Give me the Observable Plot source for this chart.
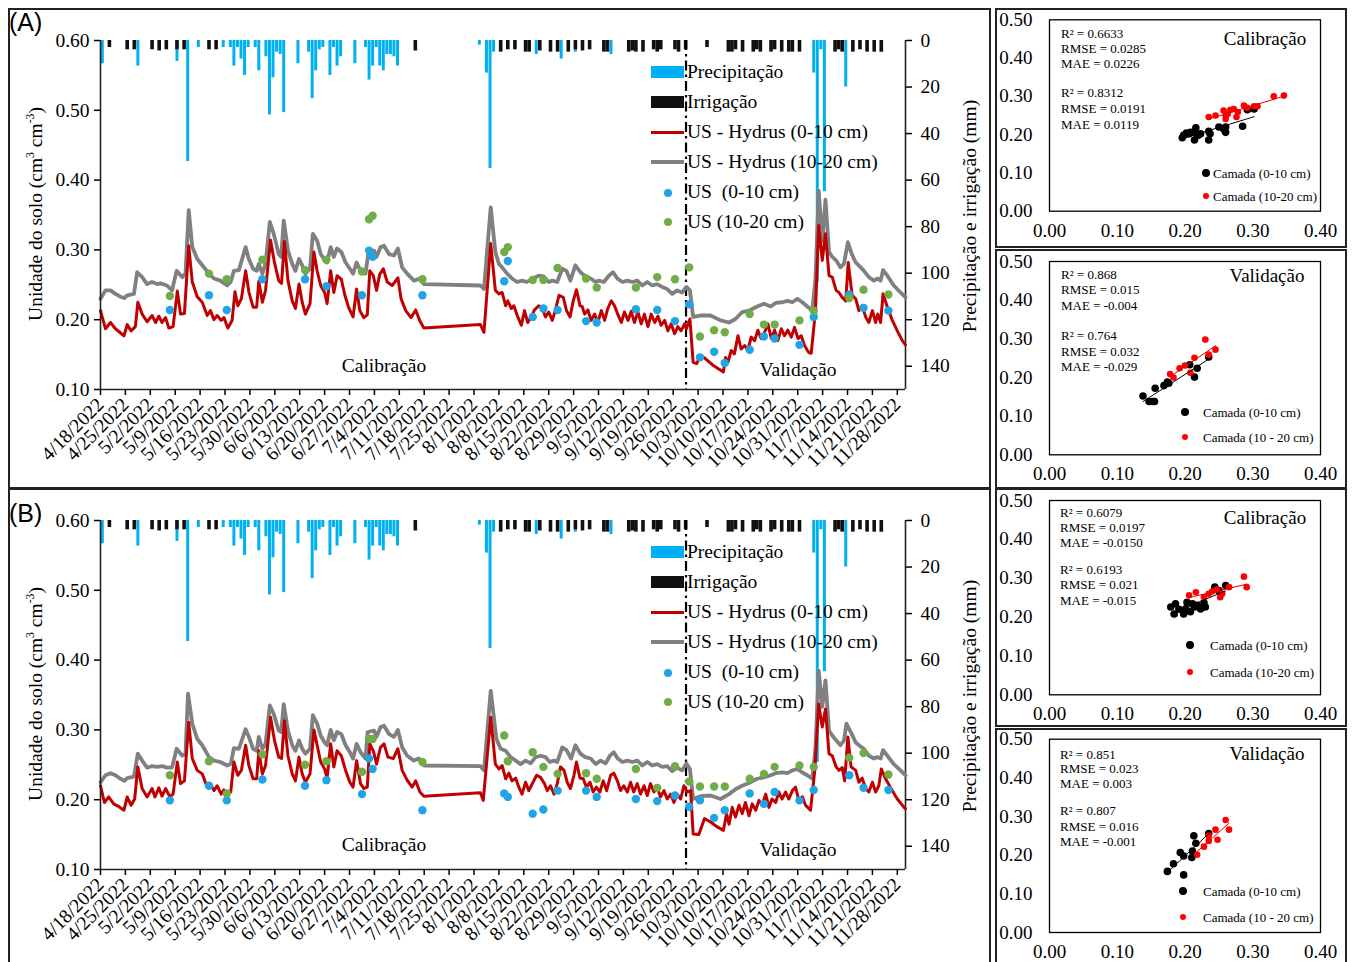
<!DOCTYPE html>
<html lang="pt">
<head>
<meta charset="utf-8">
<title>Umidade do solo – Hydrus</title>
<script src="https://cdn.jsdelivr.net/npm/d3@7"></script>
<script src="https://cdn.jsdelivr.net/npm/@observablehq/plot@0.6"></script>
<style>
  html, body { margin: 0; padding: 0; background: #fff; }
  #fig { position: relative; width: 1354px; height: 962px; overflow: hidden; background: #fff; color: #000;
         font-family: 'Liberation Serif', 'Times New Roman', serif; }
  .layer { position: absolute; }
  .layer svg { display: block; overflow: visible; }
  .layer svg, .layer svg text, .layer svg g { font-family: 'Liberation Serif', 'Times New Roman', serif !important; }
</style>
</head>
<body>
<div id="fig"></div>
<script>
// ---------------- data ----------------
// day offsets are counted from the first simulated day
const startDay = "2022-04-18";
const lastDay = 226.3;
const splitDay = 164.6;          // end of calibration / start of validation

// daily precipitation and irrigation (mm): [day, mm]
const precip = [[0,10],[10,11],[21,9],[24,52],[27,3],[34,3],[36,3],[37,11],[38,3],[39,8],[40,15],[41,3],[43,3],[44,13],[46,7],[47,32],[48,16],[49,5],[50,6],[51,31],[55,10],[58,5],[59,25],[60,13],[61,4],[62,3],[64,15],[65,3],[66,11],[67,7],[71,10],[74,3],[75,17],[76,11],[77,3],[78,11],[79,13],[80,6],[81,6],[82,7],[83,11],[106,2],[108,14],[109,55],[110,5],[122,6],[129,8],[133,5],[143,6],[200,14],[201,104],[202,4],[203,65],[209,20],[219,5]];
const irrig = [[2,3],[7,4],[9,4],[14,4],[16,4.5],[18,4],[21,4],[23,4],[30,4],[32,4],[88,4.5],[112,5],[114,4],[116,4],[119,5],[120,5],[123,4.5],[126,5],[128,5],[131,5],[133,4],[135,4.5],[137,4],[141,5],[142,5],[148,5],[149,4.5],[150,5],[152,5],[155,4],[156,5],[157,4],[161,4],[162,5],[164,4],[170,3],[176,5],[177,5],[178,4],[180,5],[183,5],[184,4],[185,5],[188,5],[189,4],[191,5],[193,5],[194,5],[196,5],[206,5],[207,4],[208,5],[211,5],[213,4],[215,5],[217,5],[219,5]];

// measured soil moisture (cm3 cm-3) on the sampling days
const obsDay = [19,30,35,45,57,63,73,75,76,90,113,114,121,124,128,136,139,150,156,161,165,168,172,175,182,186,189,196,200,210,214,221];
const obs0A = [0.214,0.235,0.214,0.258,0.258,0.248,0.235,0.299,0.290,0.235,0.255,0.284,0.204,0.216,0.214,0.198,0.196,0.215,0.214,0.198,0.222,0.146,0.154,0.138,0.157,0.176,0.173,0.164,0.204,0.236,0.217,0.213];
const obs1A = [0.234,0.266,0.258,0.286,0.271,0.286,0.269,0.344,0.349,0.258,0.297,0.304,0.257,0.257,0.274,0.259,0.246,0.246,0.261,0.258,0.275,0.176,0.185,0.182,0.208,0.193,0.193,0.199,0.213,0.231,0.243,0.236];
const obs0B = [0.199,0.220,0.199,0.229,0.220,0.228,0.208,0.259,0.244,0.185,0.209,0.204,0.180,0.186,0.213,0.213,0.204,0.201,0.198,0.206,0.190,0.199,0.174,0.185,0.209,0.194,0.211,0.199,0.214,0.235,0.217,0.214];
const obs1B = [0.235,0.255,0.209,0.265,0.250,0.255,0.240,0.287,0.287,0.254,0.292,0.255,0.268,0.247,0.237,0.238,0.230,0.244,0.217,0.248,0.226,0.219,0.219,0.219,0.230,0.237,0.247,0.249,0.247,0.260,0.267,0.236];

// Hydrus simulated soil moisture: [day, value]
const redA = [[0,0.213],[1.4,0.187],[2.8,0.196],[4.2,0.187],[6.6,0.177],[7.5,0.193],[8.6,0.184],[9.8,0.190],[10.5,0.225],[11.7,0.208],[13.1,0.197],[14.5,0.206],[15.5,0.196],[16.4,0.205],[17.3,0.196],[18.3,0.203],[19.2,0.188],[20.4,0.190],[21.6,0.241],[22.5,0.208],[23.6,0.209],[24.8,0.306],[25.8,0.254],[27.2,0.233],[28.6,0.225],[30.0,0.206],[30.9,0.213],[31.9,0.200],[32.8,0.206],[33.9,0.199],[34.7,0.203],[35.8,0.188],[37.0,0.199],[37.8,0.240],[38.6,0.220],[39.6,0.230],[40.8,0.270],[41.7,0.240],[42.9,0.218],[43.9,0.218],[44.5,0.255],[45.5,0.225],[46.4,0.242],[47.8,0.314],[48.9,0.282],[50.1,0.256],[50.9,0.252],[51.7,0.312],[52.7,0.256],[53.9,0.227],[54.8,0.216],[55.8,0.251],[56.7,0.225],[57.6,0.208],[58.9,0.223],[60.0,0.297],[60.9,0.270],[61.9,0.249],[63.0,0.239],[63.7,0.223],[64.7,0.270],[65.6,0.239],[66.5,0.263],[67.7,0.258],[68.7,0.235],[69.8,0.217],[71.0,0.204],[72.0,0.244],[72.9,0.213],[74.0,0.203],[75.0,0.207],[75.7,0.270],[76.7,0.263],[77.6,0.242],[78.5,0.265],[79.5,0.273],[80.6,0.254],[82.0,0.249],[83.6,0.260],[84.5,0.230],[85.8,0.213],[87.3,0.203],[88.6,0.214],[89.8,0.198],[90.9,0.188],[106.8,0.193],[107.8,0.182],[109.7,0.309],[111.0,0.242],[112.0,0.237],[112.9,0.239],[113.9,0.220],[114.5,0.227],[115.5,0.216],[116.2,0.220],[117.3,0.204],[118.3,0.192],[119.2,0.213],[120.1,0.196],[121.1,0.204],[122.0,0.214],[123.2,0.220],[124.2,0.216],[125.1,0.204],[126.0,0.211],[127.0,0.199],[127.9,0.214],[128.9,0.235],[130.1,0.232],[131.0,0.213],[132.0,0.204],[132.9,0.227],[133.8,0.243],[134.8,0.220],[135.4,0.219],[136.1,0.208],[137.0,0.214],[137.9,0.199],[138.9,0.208],[139.8,0.196],[140.8,0.213],[141.7,0.199],[142.6,0.216],[143.6,0.227],[144.5,0.220],[145.4,0.208],[146.4,0.196],[147.3,0.211],[148.3,0.199],[149.2,0.212],[150.1,0.196],[151.1,0.211],[152.0,0.194],[152.9,0.208],[153.9,0.190],[154.8,0.208],[155.8,0.196],[156.7,0.205],[157.6,0.192],[158.6,0.199],[159.5,0.184],[160.4,0.194],[161.4,0.180],[162.3,0.190],[163.2,0.184],[164.2,0.194],[164.7,0.187],[165.7,0.201],[166.6,0.139],[167.6,0.137],[168.7,0.149],[170.1,0.144],[172.4,0.134],[175.1,0.125],[175.7,0.146],[176.4,0.139],[177.3,0.156],[178.2,0.151],[179.2,0.177],[180.1,0.158],[181.1,0.163],[182.0,0.156],[182.9,0.175],[183.9,0.170],[184.8,0.185],[185.7,0.173],[186.7,0.182],[187.6,0.194],[188.6,0.173],[189.5,0.185],[190.4,0.170],[191.4,0.187],[192.3,0.177],[193.2,0.185],[194.2,0.175],[195.1,0.189],[196.1,0.173],[197.0,0.177],[197.9,0.163],[199.1,0.153],[199.8,0.152],[201.0,0.213],[201.9,0.335],[202.9,0.285],[203.8,0.323],[204.8,0.263],[205.7,0.261],[206.8,0.242],[207.6,0.239],[208.5,0.232],[209.5,0.227],[210.2,0.282],[211.3,0.235],[212.3,0.230],[213.2,0.213],[214.1,0.220],[215.1,0.204],[216.0,0.196],[217.0,0.213],[217.9,0.196],[218.5,0.208],[219.3,0.196],[220.0,0.237],[221.2,0.218],[222.6,0.199],[224.0,0.184],[225.4,0.170],[226.3,0.164]];
const grayA = [[0,0.230],[1.4,0.242],[2.8,0.242],[4.2,0.237],[5.6,0.233],[6.7,0.231],[7.5,0.235],[9.4,0.237],[10.3,0.268],[11.7,0.261],[13.1,0.251],[14.5,0.254],[15.9,0.251],[16.9,0.252],[18.7,0.249],[20.1,0.242],[21.4,0.270],[23.0,0.261],[23.9,0.266],[24.8,0.357],[25.8,0.304],[27.2,0.287],[28.6,0.278],[30.5,0.266],[31.9,0.259],[33.7,0.256],[35.6,0.249],[36.6,0.254],[37.5,0.270],[38.9,0.271],[40.8,0.304],[41.7,0.287],[42.9,0.273],[43.9,0.270],[44.5,0.280],[45.5,0.266],[46.4,0.280],[47.6,0.340],[48.7,0.323],[50.1,0.294],[50.8,0.290],[51.5,0.342],[52.7,0.299],[53.9,0.280],[54.8,0.270],[55.8,0.287],[56.7,0.278],[57.6,0.266],[58.9,0.273],[59.7,0.323],[60.9,0.313],[61.9,0.294],[63.0,0.285],[63.7,0.282],[64.7,0.304],[65.6,0.290],[66.5,0.302],[67.7,0.297],[68.9,0.282],[70.1,0.273],[71.0,0.266],[72.0,0.282],[73.1,0.270],[74.5,0.266],[75.4,0.299],[76.9,0.299],[77.6,0.290],[78.7,0.304],[79.7,0.306],[81.1,0.294],[82.5,0.292],[83.6,0.302],[84.8,0.275],[86.2,0.266],[88.1,0.256],[89.8,0.259],[90.9,0.251],[106.8,0.249],[107.8,0.244],[109.7,0.361],[111.0,0.297],[112.0,0.280],[112.9,0.275],[114.3,0.266],[115.7,0.259],[117.1,0.254],[118.5,0.256],[119.9,0.254],[121.4,0.259],[123.2,0.263],[124.6,0.262],[126.0,0.254],[127.0,0.256],[128.4,0.254],[129.8,0.273],[131.0,0.270],[132.1,0.256],[133.5,0.278],[134.9,0.268],[136.6,0.261],[137.8,0.259],[139.2,0.254],[140.1,0.256],[141.5,0.254],[142.9,0.263],[144.1,0.268],[145.3,0.259],[146.7,0.254],[148.1,0.256],[149.5,0.254],[150.9,0.256],[152.3,0.249],[153.7,0.254],[155.1,0.249],[156.5,0.251],[157.9,0.247],[159.3,0.244],[160.7,0.237],[162.1,0.242],[163.5,0.239],[164.7,0.247],[165.7,0.242],[166.6,0.204],[168.7,0.206],[171.5,0.206],[174.3,0.199],[176.7,0.196],[178.5,0.201],[180.4,0.211],[182.3,0.213],[184.6,0.219],[186.5,0.223],[188.4,0.219],[189.8,0.224],[191.7,0.225],[193.1,0.227],[194.5,0.225],[195.9,0.230],[197.3,0.225],[198.7,0.219],[200.1,0.213],[201.0,0.259],[201.9,0.385],[202.9,0.313],[203.8,0.372],[204.8,0.297],[205.7,0.290],[206.8,0.285],[208.0,0.275],[209.0,0.280],[210.1,0.311],[211.2,0.294],[212.3,0.282],[213.7,0.275],[214.6,0.270],[216.0,0.261],[217.4,0.256],[218.4,0.259],[219.3,0.256],[220.0,0.271],[221.2,0.263],[223.0,0.249],[224.9,0.239],[226.3,0.232]];
const redB = [[0,0.220],[1.1,0.196],[2.3,0.204],[3.7,0.194],[5.2,0.190],[6.6,0.185],[7.5,0.204],[8.6,0.192],[9.6,0.201],[10.5,0.247],[11.7,0.216],[13.1,0.204],[14.5,0.216],[15.3,0.204],[16.4,0.217],[17.3,0.205],[18.3,0.216],[19.5,0.204],[20.4,0.208],[21.6,0.254],[22.5,0.223],[23.6,0.227],[24.8,0.311],[25.8,0.259],[27.2,0.242],[28.6,0.237],[30.0,0.218],[30.9,0.223],[31.9,0.213],[32.8,0.220],[33.9,0.208],[34.7,0.214],[35.6,0.207],[36.6,0.211],[37.5,0.254],[38.6,0.235],[39.6,0.242],[40.8,0.278],[41.7,0.249],[42.9,0.230],[43.9,0.230],[44.5,0.270],[45.5,0.237],[46.4,0.249],[47.8,0.318],[48.9,0.285],[50.1,0.261],[50.9,0.259],[51.7,0.313],[52.7,0.263],[53.9,0.237],[54.8,0.227],[55.8,0.261],[56.7,0.237],[57.6,0.225],[58.9,0.237],[60.0,0.300],[60.9,0.278],[61.9,0.254],[63.0,0.244],[63.7,0.231],[64.7,0.280],[65.6,0.247],[66.5,0.270],[67.7,0.263],[68.9,0.242],[70.1,0.225],[71.0,0.218],[72.0,0.256],[73.1,0.223],[74.0,0.216],[75.0,0.218],[75.7,0.280],[76.7,0.270],[77.6,0.251],[78.7,0.275],[79.7,0.280],[80.8,0.261],[82.3,0.259],[83.6,0.273],[84.8,0.242],[86.2,0.228],[87.6,0.218],[88.6,0.227],[89.8,0.211],[90.9,0.205],[106.8,0.210],[107.6,0.199],[109.7,0.318],[111.0,0.251],[112.0,0.244],[112.9,0.249],[113.9,0.230],[114.8,0.238],[115.7,0.227],[116.7,0.231],[117.6,0.218],[118.5,0.208],[119.5,0.225],[120.4,0.213],[121.4,0.223],[122.6,0.235],[123.7,0.232],[124.8,0.223],[125.6,0.213],[126.5,0.220],[127.5,0.208],[128.4,0.223],[129.3,0.247],[130.3,0.242],[131.2,0.225],[132.1,0.216],[133.1,0.235],[133.8,0.254],[134.8,0.231],[135.7,0.230],[136.6,0.218],[137.6,0.225],[138.5,0.211],[139.4,0.218],[140.4,0.211],[141.3,0.227],[142.3,0.213],[143.4,0.235],[144.3,0.238],[145.3,0.227],[146.2,0.213],[147.1,0.220],[148.1,0.211],[149.0,0.225],[149.9,0.211],[150.9,0.223],[151.8,0.208],[152.8,0.220],[153.7,0.206],[154.6,0.223],[155.6,0.211],[156.5,0.218],[157.4,0.204],[158.4,0.213],[159.3,0.201],[160.3,0.208],[161.2,0.196],[162.1,0.208],[163.1,0.201],[164.0,0.220],[164.9,0.211],[165.9,0.213],[166.6,0.151],[168.2,0.150],[169.8,0.173],[171.5,0.168],[173.4,0.161],[175.1,0.156],[176.0,0.180],[176.7,0.165],[177.6,0.189],[178.5,0.175],[179.5,0.192],[180.4,0.180],[181.3,0.196],[182.3,0.177],[183.2,0.194],[184.2,0.185],[185.1,0.199],[186.0,0.192],[187.0,0.208],[187.9,0.189],[188.8,0.201],[189.8,0.196],[190.7,0.211],[191.6,0.201],[192.6,0.211],[193.5,0.201],[194.5,0.213],[195.4,0.218],[196.3,0.199],[197.3,0.204],[198.2,0.192],[199.6,0.185],[200.8,0.242],[201.9,0.337],[202.9,0.304],[203.8,0.330],[204.8,0.266],[205.7,0.263],[206.8,0.247],[207.6,0.242],[208.5,0.246],[209.2,0.227],[210.1,0.290],[211.0,0.247],[212.3,0.242],[213.2,0.225],[214.1,0.231],[215.1,0.216],[216.0,0.211],[217.0,0.225],[217.9,0.211],[218.8,0.220],[219.5,0.244],[220.7,0.230],[222.6,0.213],[224.0,0.201],[225.9,0.189],[226.3,0.187]];
const grayB = [[0,0.225],[1.4,0.235],[2.8,0.238],[4.2,0.235],[5.6,0.230],[6.7,0.227],[7.5,0.231],[9.4,0.233],[10.5,0.266],[11.7,0.256],[13.1,0.246],[14.5,0.248],[15.9,0.247],[17.3,0.248],[18.7,0.246],[20.1,0.246],[21.4,0.273],[23.0,0.263],[23.9,0.266],[24.6,0.352],[25.8,0.309],[27.2,0.287],[28.6,0.278],[30.5,0.261],[31.9,0.256],[33.7,0.254],[35.6,0.249],[36.6,0.251],[37.5,0.274],[38.9,0.273],[40.8,0.301],[41.7,0.290],[42.9,0.273],[43.9,0.270],[44.5,0.290],[45.5,0.273],[46.4,0.280],[47.6,0.335],[48.7,0.323],[50.1,0.299],[50.8,0.297],[51.5,0.337],[52.7,0.299],[53.9,0.278],[54.8,0.270],[55.8,0.285],[56.7,0.273],[57.6,0.266],[58.9,0.273],[59.7,0.321],[60.9,0.309],[61.9,0.292],[63.0,0.282],[63.7,0.278],[64.7,0.300],[65.6,0.285],[66.5,0.297],[67.7,0.294],[68.9,0.278],[70.1,0.268],[71.0,0.259],[72.0,0.280],[73.1,0.268],[74.5,0.259],[75.1,0.297],[76.9,0.299],[77.6,0.290],[78.7,0.304],[79.7,0.306],[81.1,0.294],[82.5,0.290],[83.6,0.300],[84.8,0.275],[86.2,0.263],[88.1,0.256],[89.5,0.259],[90.9,0.249],[106.8,0.248],[107.8,0.242],[109.7,0.356],[111.3,0.287],[112.5,0.273],[113.9,0.270],[115.3,0.261],[116.7,0.256],[118.1,0.251],[119.5,0.256],[120.9,0.252],[122.3,0.261],[123.7,0.263],[125.1,0.261],[126.3,0.254],[127.5,0.256],[128.4,0.254],[129.8,0.275],[131.0,0.271],[132.3,0.259],[133.5,0.278],[134.9,0.266],[136.3,0.261],[137.8,0.259],[139.2,0.251],[140.6,0.256],[142.0,0.252],[143.2,0.263],[144.3,0.268],[145.4,0.259],[146.7,0.254],[148.1,0.256],[149.5,0.254],[150.9,0.256],[152.3,0.249],[153.7,0.254],[155.1,0.249],[156.5,0.251],[157.9,0.247],[159.3,0.248],[160.7,0.241],[162.1,0.246],[163.5,0.242],[164.7,0.252],[165.7,0.244],[166.6,0.201],[168.7,0.205],[171.5,0.206],[174.3,0.201],[176.7,0.208],[178.5,0.215],[180.4,0.220],[182.3,0.224],[184.6,0.230],[186.5,0.232],[188.4,0.235],[189.8,0.238],[191.7,0.239],[193.1,0.238],[194.5,0.242],[195.9,0.244],[197.3,0.239],[198.7,0.235],[200.1,0.230],[201.0,0.275],[201.9,0.385],[202.9,0.333],[203.8,0.371],[204.8,0.299],[205.7,0.292],[206.8,0.285],[208.0,0.278],[209.0,0.285],[209.7,0.309],[211.2,0.294],[212.3,0.282],[213.7,0.276],[214.6,0.273],[216.0,0.263],[217.4,0.259],[218.4,0.261],[219.3,0.259],[220.0,0.271],[221.2,0.263],[223.0,0.251],[224.9,0.242],[226.3,0.235]];

// tick values
const thetaTicks = [0.1, 0.2, 0.3, 0.4, 0.5, 0.6];
const mmTicks = [0, 20, 40, 60, 80, 100, 120, 140];
const sxTicks = [0, 0.1, 0.2, 0.3, 0.4];
const syTicks = [0, 0.1, 0.2, 0.3, 0.4, 0.5];

// observed (x) vs simulated (y) pairs for each layer
const calA0 = [[0.196,0.192],[0.198,0.198],[0.202,0.204],[0.206,0.202],[0.208,0.206],[0.214,0.186],[0.216,0.218],[0.217,0.202],[0.219,0.198],[0.223,0.202],[0.235,0.209],[0.235,0.186],[0.237,0.202],[0.250,0.220],[0.257,0.215],[0.260,0.220],[0.260,0.206],[0.285,0.222],[0.292,0.265],[0.302,0.267]];
const calA1 = [[0.235,0.246],[0.245,0.250],[0.257,0.263],[0.260,0.250],[0.260,0.241],[0.263,0.254],[0.267,0.265],[0.272,0.267],[0.276,0.246],[0.278,0.259],[0.287,0.276],[0.292,0.270],[0.302,0.274],[0.307,0.274],[0.331,0.300],[0.346,0.302]];
const valA0 = [[0.138,0.152],[0.147,0.138],[0.152,0.138],[0.155,0.138],[0.156,0.172],[0.169,0.179],[0.174,0.188],[0.176,0.185],[0.207,0.233],[0.214,0.201],[0.218,0.224],[0.235,0.253]];
const valA1 = [[0.178,0.209],[0.183,0.200],[0.192,0.224],[0.200,0.231],[0.208,0.212],[0.214,0.251],[0.230,0.298],[0.235,0.259],[0.245,0.272]];
const calB0 = [[0.179,0.226],[0.184,0.208],[0.186,0.234],[0.191,0.220],[0.198,0.208],[0.201,0.221],[0.203,0.238],[0.208,0.214],[0.211,0.234],[0.214,0.226],[0.218,0.230],[0.223,0.221],[0.228,0.237],[0.230,0.226],[0.244,0.277],[0.250,0.268],[0.260,0.281]];
const calB1 = [[0.206,0.256],[0.216,0.264],[0.228,0.251],[0.235,0.260],[0.240,0.266],[0.247,0.271],[0.252,0.251],[0.255,0.260],[0.265,0.277],[0.287,0.304],[0.291,0.277]];
const valB0 = [[0.174,0.158],[0.183,0.178],[0.193,0.207],[0.198,0.198],[0.198,0.149],[0.210,0.194],[0.211,0.211],[0.213,0.250],[0.216,0.231],[0.235,0.256]];
const valB1 = [[0.218,0.201],[0.228,0.222],[0.235,0.237],[0.235,0.250],[0.245,0.266],[0.248,0.240],[0.260,0.291],[0.265,0.266]];

// fit statistics (0-10 cm, then 10-20 cm)
const statsCalA = ["R² = 0.6633", "RMSE = 0.0285", "MAE = 0.0226", "R² = 0.8312", "RMSE = 0.0191", "MAE = 0.0119"];
const statsValA = ["R² = 0.868", "RMSE = 0.015", "MAE = -0.004", "R² = 0.764", "RMSE = 0.032", "MAE = -0.029"];
const statsCalB = ["R² = 0.6079", "RMSE = 0.0197", "MAE = -0.0150", "R² = 0.6193", "RMSE = 0.021", "MAE = -0.015"];
const statsValB = ["R² = 0.851", "RMSE = 0.023", "MAE = 0.003", "R² = 0.807", "RMSE = 0.016", "MAE = -0.001"];

// ---------------- drawing ----------------
const SERIF = "'Liberation Serif','Times New Roman',serif";
const SANS = "'Liberation Sans',Arial,sans-serif";
const C = {rain: "#00B0F0", irr: "#111111", red: "#C00000", gray: "#808080", blue: "#1FA5E6", green: "#70AD47"};
const t0 = Date.parse(startDay + "T00:00:00Z");
const at = d => new Date(t0 + d * 864e5);
const weekTicks = d3.utcMonday.range(at(0), at(lastDay));
const fmtDate = d3.utcFormat("%-m/%-d/%Y");
const fig = document.getElementById("fig");

function el(css, html) {
  const e = document.createElement("div");
  e.style.cssText = "position:absolute;" + css;
  if (html != null) e.innerHTML = html;
  fig.appendChild(e);
  return e;
}
function text(str, x, y, o = {}) {
  const size = o.size || 19.5, fam = o.family || SERIF;
  const tx = o.align === "center" ? "-50%" : o.align === "right" ? "-100%" : "0";
  const rot = o.rotate ? ` rotate(${o.rotate}deg)` : "";
  return el(`left:${x}px;top:${y}px;white-space:nowrap;line-height:1;font-family:${fam};font-size:${size}px;transform:translate(${tx},-50%)${rot};`, str);
}
function box(x, y, w, h) {
  el(`left:${x}px;top:${y}px;width:${w}px;height:${h}px;box-sizing:border-box;border:2px solid #222;`);
}
function layer(svg, x, y) {
  const d = el(`left:${x}px;top:${y}px;`);
  d.className = "layer";
  d.appendChild(svg);
}

const styleOf = size => ({background: "transparent", fontFamily: SERIF, fontSize: size + "px", color: "#000", overflow: "visible"});

function mainPanel(top, h, mb, red, gray, obs0, obs1) {
  const frame = {width: 982, height: h, marginLeft: 92, marginRight: 85, marginTop: 32, marginBottom: mb, style: styleOf(19.5)};
  const xs = {type: "utc", domain: [at(0), at(lastDay)]};
  const water = Plot.plot({
    ...frame,
    x: {...xs, axis: null},
    y: {domain: [0, 150], reverse: true},
    marks: [
      Plot.ruleX(precip, {x: d => at(d[0] + 0.5), y1: 0, y2: d => d[1], stroke: C.rain, strokeWidth: 3}),
      Plot.ruleX(irrig, {x: d => at(d[0] + 0.5), y1: 0, y2: d => d[1], stroke: C.irr, strokeWidth: 3.6}),
      Plot.ruleX([at(lastDay)], {stroke: "#222", strokeWidth: 1.6}),
      Plot.axisY({anchor: "right", ticks: mmTicks, tickSize: 6, tickPadding: 9, strokeWidth: 1.5, label: null})
    ]
  });
  const moist = Plot.plot({
    ...frame,
    x: xs,
    y: {domain: [0.1, 0.6]},
    marks: [
      Plot.ruleX([at(splitDay)], {stroke: "#000", strokeWidth: 2.2, strokeDasharray: "10,4,2.5,4"}),
      Plot.line(gray, {x: d => at(d[0]), y: d => d[1], stroke: C.gray, strokeWidth: 3.8}),
      Plot.line(red, {x: d => at(d[0]), y: d => d[1], stroke: C.red, strokeWidth: 3}),
      Plot.dot(obsDay, {x: d => at(d + 0.5), y: (d, i) => obs0[i], fill: C.blue, r: 4.2}),
      Plot.dot(obsDay, {x: d => at(d + 0.5), y: (d, i) => obs1[i], fill: C.green, r: 4.2}),
      Plot.ruleX([at(0)], {stroke: "#222", strokeWidth: 1.6}),
      Plot.ruleY([0.1], {stroke: "#222", strokeWidth: 1.6}),
      Plot.axisY({ticks: thetaTicks, tickFormat: ".2f", tickSize: 6, tickPadding: 5, strokeWidth: 1.5, label: null}),
      Plot.axisX({ticks: weekTicks, tickFormat: fmtDate, tickRotate: -45, tickSize: 6, tickPadding: 6, strokeWidth: 1.5, label: null})
    ]
  });
  layer(water, 8, top);
  layer(moist, 8, top);
}

function legend(dy) {
  const x0 = 651, w = 33, tx = 687;
  el(`left:${x0}px;top:${66 + dy}px;width:${w}px;height:12px;background:${C.rain};`);
  el(`left:${x0}px;top:${96 + dy}px;width:${w}px;height:12px;background:${C.irr};`);
  el(`left:${x0}px;top:${131 + dy}px;width:${w}px;height:3px;background:${C.red};`);
  el(`left:${x0}px;top:${160 + dy}px;width:${w}px;height:4px;background:${C.gray};`);
  el(`left:${664}px;top:${189 + dy}px;width:8px;height:8px;border-radius:50%;background:${C.blue};`);
  el(`left:${664}px;top:${218 + dy}px;width:8px;height:8px;border-radius:50%;background:${C.green};`);
  const rows = ["Precipitação", "Irrigação", "US - Hydrus (0-10 cm)", "US - Hydrus (10-20 cm)", "US&nbsp; (0-10 cm)", "US (10-20 cm)"];
  rows.forEach((r, i) => text(r, tx, 72 + 30 * i + dy));
}

function scatter(L, black, red, stats, title, redLabel) {
  const plot = Plot.plot({
    width: 352, height: L.h, marginLeft: 54, marginRight: 27, marginTop: L.mt, marginBottom: L.mb,
    style: styleOf(19),
    x: {domain: [0, 0.4]},
    y: {domain: [0, 0.5]},
    marks: [
      Plot.frame({stroke: "#000", strokeWidth: 1.3}),
      Plot.axisX({ticks: sxTicks, tickFormat: ".2f", tickSize: 0, tickPadding: 12, label: null}),
      Plot.axisY({ticks: syTicks, tickFormat: ".2f", tickSize: 0, tickPadding: 17, label: null}),
      Plot.dot(black, {x: d => d[0], y: d => d[1], fill: "#000", r: 3.8}),
      Plot.dot(red, {x: d => d[0], y: d => d[1], fill: "#FF0000", r: 3.3}),
      Plot.linearRegressionY(black, {x: d => d[0], y: d => d[1], stroke: "#000", strokeWidth: 1, ci: 0}),
      Plot.linearRegressionY(red, {x: d => d[0], y: d => d[1], stroke: "#E00000", strokeWidth: 1, ci: 0})
    ]
  });
  box(995, L.boxTop, 352, L.boxH);
  layer(plot, 995, L.top);
  stats.forEach((s, i) => text(s, L.sx, L.sy[i], {size: 13}));
  text(title, L.tx, L.ty, {size: 19, align: "center"});
  el(`left:${L.dx - 4}px;top:${L.ly[0] - 4}px;width:8px;height:8px;border-radius:50%;background:#000;`);
  el(`left:${L.dx - 3.3}px;top:${L.ly[1] - 3.3}px;width:6.6px;height:6.6px;border-radius:50%;background:#FF0000;`);
  text("Camada (0-10 cm)", L.lx, L.ly[0], {size: 13});
  text(redLabel, L.lx, L.ly[1], {size: 13});
}

// panel frames
box(8, 8, 983, 481);
box(8, 488, 983, 490);

// panel A and B time series
mainPanel(8, 480, 99, redA, grayA, obs0A, obs1A);
mainPanel(488, 474, 93, redB, grayB, obs0B, obs1B);

[0, 480].forEach((dy, k) => {
  legend(dy);
  text("Calibração", 384, 366 + dy + (k ? -1 : 0), {align: "center"});
  text("Validação", 798, 370 + dy, {align: "center"});
  text("Unidade do solo (cm<sup style='font-size:0.6em'>3</sup> cm<sup style='font-size:0.6em'>-3</sup>)", 35, 214 + dy, {align: "center", rotate: -90});
  text("Precipitação e irrigação (mm)", 970, 216 + dy, {align: "center", rotate: -90});
});
text("(A)", 9, 22, {size: 25, family: SANS});
text("(B)", 9, 513, {size: 25, family: SANS});

// observed vs simulated panels
scatter({boxTop: 8, boxH: 240, top: 8, h: 238, mt: 11.3, mb: 35.3, sx: 1061, sy: [33, 48, 63, 92, 108, 124], tx: 1265, ty: 38, dx: 1206, lx: 1213, ly: [173, 196]},
  calA0, calA1, statsCalA, "Calibração", "Camada (10-20 cm)");
scatter({boxTop: 249, boxH: 240, top: 249, h: 238, mt: 12, mb: 32.7, sx: 1061, sy: [274, 289, 305, 335, 351, 366], tx: 1267, ty: 275, dx: 1185, lx: 1203, ly: [412, 437]},
  valA0, valA1, statsValA, "Validação", "Camada (10 - 20 cm)");
scatter({boxTop: 488, boxH: 239, top: 489, h: 236, mt: 11, mb: 30.7, sx: 1060, sy: [512, 527, 542, 569, 584, 600], tx: 1265, ty: 517, dx: 1190, lx: 1210, ly: [645, 672]},
  calB0, calB1, statsCalB, "Calibração", "Camada (10-20 cm)");
scatter({boxTop: 728, boxH: 260, top: 728, h: 234, mt: 10.7, mb: 30, sx: 1060, sy: [754, 768, 783, 810, 826, 841], tx: 1267, ty: 753, dx: 1183, lx: 1203, ly: [891, 917]},
  valB0, valB1, statsValB, "Validação", "Camada (10 - 20 cm)");
</script>
</body>
</html>
